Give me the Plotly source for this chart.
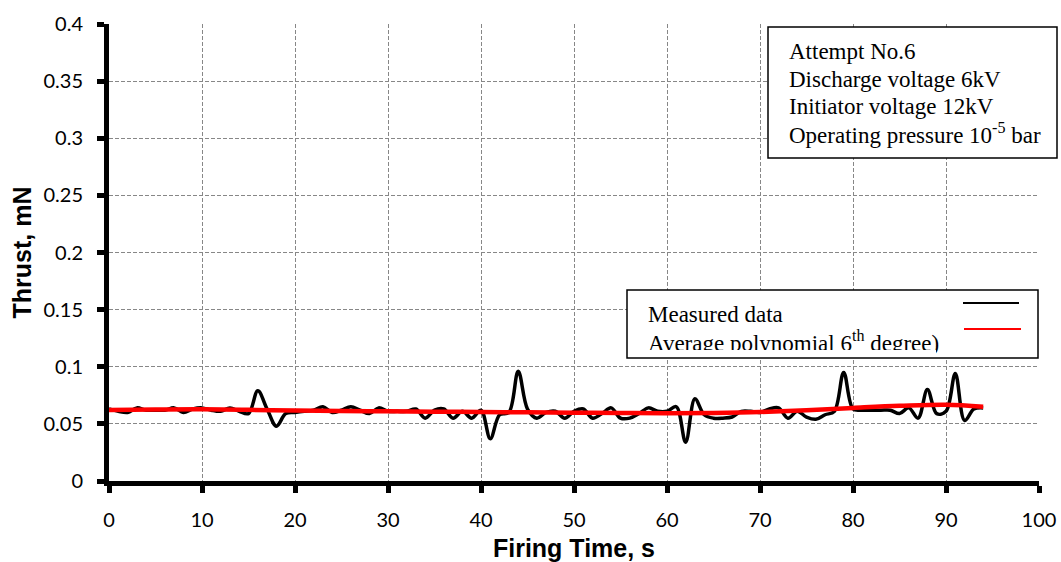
import plotly.graph_objects as go

# Measured thrust, one sample per second of firing
firing_time = list(range(0, 95))
thrust = [
    0.063, 0.061, 0.060, 0.064, 0.062, 0.062, 0.062, 0.064, 0.060, 0.063,
    0.064, 0.062, 0.061, 0.064, 0.061, 0.059, 0.079, 0.063, 0.048, 0.059,
    0.060, 0.061, 0.062, 0.065, 0.060, 0.062, 0.065, 0.062, 0.059, 0.064,
    0.061, 0.061, 0.061, 0.063, 0.055, 0.062, 0.063, 0.055, 0.061, 0.055,
    0.062, 0.037, 0.058, 0.060, 0.096, 0.063, 0.055, 0.060, 0.061, 0.055,
    0.061, 0.063, 0.055, 0.059, 0.064, 0.055, 0.055, 0.059, 0.064, 0.061,
    0.061, 0.065, 0.034, 0.072, 0.058, 0.055, 0.055, 0.056, 0.061, 0.061,
    0.060, 0.063, 0.064, 0.055, 0.061, 0.056, 0.054, 0.058, 0.061, 0.095,
    0.063, 0.062, 0.062, 0.062, 0.062, 0.059, 0.064, 0.055, 0.080, 0.059,
    0.061, 0.094, 0.053, 0.063, 0.064,
]

# 6th-degree polynomial average, sampled along the firing
trend_time = [0, 5, 10, 15, 20, 25, 30, 35, 40, 45, 50, 55, 60, 65, 70, 75, 80, 85, 90, 94]
trend_thrust = [0.0621, 0.0625, 0.0627, 0.0623, 0.0617, 0.0613, 0.0610, 0.0607, 0.0604, 0.0601,
                0.0598, 0.0595, 0.0593, 0.0596, 0.0604, 0.0620, 0.0640, 0.0658, 0.0668, 0.0650]

x_ticks = list(range(0, 101, 10))
y_ticks = [0, 0.05, 0.1, 0.15, 0.2, 0.25, 0.3, 0.35, 0.4]

info_lines = ["Attempt No.6", "Discharge voltage 6kV", "Initiator voltage 12kV",
              "Operating pressure 10<sup>-5</sup> bar"]
legend_labels = ["Measured data", "Average polynomial 6<sup>th</sup> degree)"]

W, H = 1061, 562
L, R, T, B = 109, 22, 24, 81
PW, PH = W - L - R, H - T - B


def px_x(p):
    return (p - L) / PW


def px_y(p):
    return (H - B - p) / PH


TICK_FONT = dict(family="Lato", size=20, color="black")
TITLE_FONT = dict(family="Liberation Sans", size=25, color="black", weight="bold")
SERIF = dict(family="Liberation Serif", size=23, color="black")
GRID = dict(showgrid=True, gridcolor="#878787", gridwidth=1.4, griddash="4px,2px",
            showline=True, linecolor="black", linewidth=5, ticks="outside",
            ticklen=7, tickwidth=5, tickcolor="black", zeroline=False,
            tickfont=TICK_FONT, ticklabelstandoff=10, automargin=False)

fig = go.Figure()
fig.add_trace(go.Scatter(x=firing_time, y=thrust, mode="lines",
                         line=dict(color="black", width=3.5, shape="spline", smoothing=1),
                         showlegend=False, name="Measured data"))
fig.add_trace(go.Scatter(x=trend_time, y=trend_thrust, mode="lines",
                         line=dict(color="#ff0000", width=4.5, shape="spline", smoothing=1),
                         showlegend=False, name="Average polynomial 6th degree"))

fig.update_layout(
    width=W, height=H,
    margin=dict(l=L, r=R, t=T, b=B, autoexpand=False),
    paper_bgcolor="white", plot_bgcolor="white",
    showlegend=False,
    xaxis=dict(range=[0, 100], tickvals=x_ticks, **GRID,
               title=dict(text="Firing Time, s", font=TITLE_FONT, standoff=14)),
    yaxis=dict(range=[0, 0.4], tickvals=y_ticks, ticktext=[f"{v:g}" for v in y_ticks], **GRID,
               title=dict(text="Thrust, mN", font=TITLE_FONT, standoff=6)),
)

# info box in the upper right
fig.add_shape(type="rect", xref="paper", yref="paper", layer="above",
              x0=px_x(768), x1=px_x(1057), y0=px_y(158), y1=px_y(27),
              fillcolor="white", line=dict(color="black", width=1.5))
for i, line in enumerate(info_lines):
    fig.add_annotation(xref="paper", yref="paper", x=px_x(787), y=px_y(52 + 27.3 * i),
                       xanchor="left", yanchor="middle", align="left", showarrow=False,
                       text=line, font=SERIF)

# legend box with its line samples
lg_x0, lg_x1, lg_y0, lg_y1 = 627, 1038, 290, 358
fig.add_shape(type="rect", xref="paper", yref="paper", layer="above",
              x0=px_x(lg_x0), x1=px_x(lg_x1), y0=px_y(lg_y1), y1=px_y(lg_y0),
              fillcolor="white", line=dict(color="black", width=1.5))
fig.add_shape(type="line", xref="paper", yref="paper", layer="above",
              x0=px_x(963), x1=px_x(1019), y0=px_y(303), y1=px_y(303),
              line=dict(color="black", width=2))
fig.add_shape(type="line", xref="paper", yref="paper", layer="above",
              x0=px_x(964), x1=px_x(1021), y0=px_y(329), y1=px_y(329),
              line=dict(color="#ff0000", width=2))
for i, label in enumerate(legend_labels):
    fig.add_annotation(xref="paper", yref="paper", x=px_x(646), y=px_y(315 + 26.5 * i),
                       xanchor="left", yanchor="middle", align="left", showarrow=False,
                       text=label, font=SERIF)
# the legend text frame cuts off the descenders of the last line
fig.add_annotation(xref="paper", yref="paper", x=px_x(636), y=px_y(349.5),
                   xanchor="left", yanchor="top", showarrow=False, text=" ",
                   width=300, height=6, borderpad=0, borderwidth=0,
                   bgcolor="white", font=dict(size=4))

fig.write_html("out.html")
